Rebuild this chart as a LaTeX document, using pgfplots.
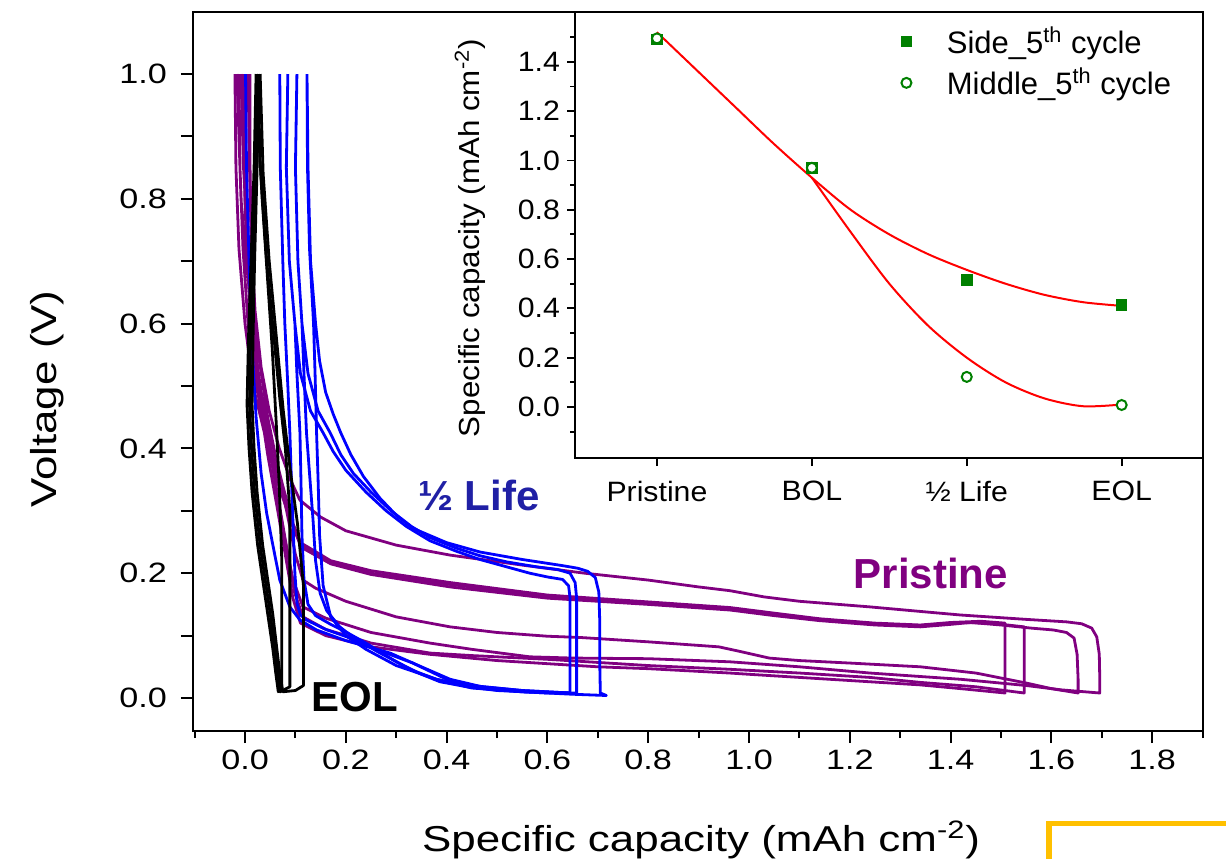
\documentclass[border=0pt]{standalone}
\usepackage{pgfplots}
\pgfplotsset{compat=1.18}
\usepackage{fontspec}
\setmainfont{Liberation Sans}
\newfontfamily\axfont{Liberation Sans}[FakeStretch=1.22]
\newfontfamily\insfont{Liberation Sans}[FakeStretch=1.08]

\definecolor{purp}{RGB}{128,0,128}
\definecolor{lifeblue}{RGB}{0,0,255}
\definecolor{halflab}{RGB}{32,32,165}
\definecolor{markgreen}{RGB}{0,128,0}
\definecolor{fitred}{RGB}{255,0,0}
\definecolor{boxyellow}{RGB}{255,192,0}

\begin{document}
\begin{tikzpicture}
\path[use as bounding box] (-96.5pt,-63.5pt) rectangle (516.5pt,365.5pt);

% main chart: voltage profiles
\begin{axis}[
    at={(0,0)}, anchor=south west,
    scale only axis, width=505pt, height=359.5pt,
    xmin=-0.1032, xmax=1.9008, ymin=-0.0529, ymax=1.0994,
    axis line style={line width=1pt},
    tick align=outside, tick pos=left,
    every tick/.style={black, line width=1pt},
    major tick length=6pt, minor tick length=3.5pt,
    xtick={0,0.2,0.4,0.6,0.8,1.0,1.2,1.4,1.6,1.8},
    minor xtick={-0.1,0.1,0.3,0.5,0.7,0.9,1.1,1.3,1.5,1.7,1.9},
    ytick={0,0.2,0.4,0.6,0.8,1.0},
    extra y ticks={0.1,0.3,0.5,0.7,0.9},
    extra y tick style={yticklabel={}},
    /pgf/number format/fixed, /pgf/number format/fixed zerofill,
    /pgf/number format/precision=1, /pgf/number format/assume math mode=true,
    ticklabel style={font=\axfont\fontsize{14}{16}\selectfont},
    yticklabel style={xshift=-3.5pt},
    xlabel={Specific capacity (mAh cm\textsuperscript{-2})},
    ylabel={Voltage (V)},
    label style={font=\axfont\fontsize{18}{21}\selectfont},
    xlabel style={at={(axis description cs:0.503,-0.1669)}, anchor=base},
    ylabel style={at={(axis description cs:-0.1446,0.4617)}, anchor=center},
    every axis plot/.append style={line width=1.4pt, line join=round},
]
% Pristine (purple)
\addplot[purp] coordinates {
(0.006,1.0) (0.009,0.85) (0.013,0.72) (0.02,0.62) (0.032,0.53) (0.048,0.46) (0.068,0.40) (0.09,0.35) (0.109,0.317) (0.15,0.29) (0.2,0.268) (0.3,0.245) (0.407,0.229) (0.55,0.213) (0.674,0.200) (0.8,0.189) (0.9,0.178) (0.962,0.172) (1.03,0.162) (1.1,0.155) (1.24,0.146) (1.35,0.138) (1.42,0.133) (1.55,0.126) (1.63,0.122) (1.66,0.119) (1.68,0.112) (1.69,0.098) (1.695,0.07) (1.696,0.03) (1.696,0.008)
(1.62,0.013) (1.55,0.02) (1.42,0.030) (1.24,0.040) (1.1,0.050) (0.962,0.058) (0.8,0.063) (0.65,0.064) (0.565,0.066) (0.45,0.078) (0.367,0.088) (0.25,0.105) (0.16,0.128) (0.115,0.146) (0.095,0.19) (0.08,0.25) (0.065,0.32) (0.045,0.42) (0.025,0.53) (0.01,0.66) (0.0,0.8) (0.0,1.0)
};
\addplot[purp] coordinates {
(-0.004,1.0) (-0.002,0.85) (0.003,0.72) (0.012,0.6) (0.028,0.5) (0.05,0.42) (0.075,0.34) (0.095,0.28) (0.115,0.24) (0.17,0.215) (0.25,0.198) (0.407,0.178) (0.6,0.160) (0.8,0.150) (0.962,0.141) (1.05,0.132) (1.14,0.124) (1.25,0.117) (1.34,0.114) (1.40,0.118) (1.44,0.121) (1.5,0.117) (1.56,0.112) (1.604,0.109) (1.63,0.105) (1.645,0.096) (1.651,0.07) (1.653,0.03) (1.653,0.008)
(1.6,0.015) (1.55,0.024) (1.45,0.040) (1.34,0.050) (1.2,0.056) (1.1,0.06) (1.04,0.064) (0.98,0.075) (0.94,0.082) (0.8,0.09) (0.665,0.097) (0.6,0.099) (0.5,0.105) (0.407,0.114) (0.3,0.13) (0.2,0.155) (0.14,0.176) (0.115,0.189) (0.1,0.23) (0.085,0.29) (0.065,0.37) (0.045,0.45) (0.025,0.56) (0.008,0.7) (-0.003,0.85) (-0.008,1.0)
};
\addplot[purp] coordinates {
(-0.012,1.0) (-0.01,0.85) (-0.004,0.72) (0.006,0.6) (0.022,0.5) (0.045,0.42) (0.07,0.34) (0.09,0.285) (0.11,0.245) (0.17,0.218) (0.25,0.2) (0.407,0.182) (0.6,0.163) (0.8,0.152) (0.962,0.143) (1.05,0.134) (1.14,0.126) (1.25,0.119) (1.34,0.116) (1.42,0.121) (1.48,0.12) (1.546,0.114) (1.546,0.008)
(1.45,0.018) (1.34,0.025) (1.24,0.033) (1.1,0.04) (0.962,0.046) (0.8,0.052) (0.6,0.062) (0.45,0.068) (0.367,0.072) (0.25,0.088) (0.16,0.11) (0.115,0.13) (0.098,0.17) (0.085,0.23) (0.068,0.31) (0.048,0.40) (0.028,0.5) (0.01,0.64) (-0.008,0.8) (-0.016,1.0)
};
\addplot[purp] coordinates {
(-0.02,1.0) (-0.018,0.85) (-0.012,0.72) (0.0,0.6) (0.016,0.5) (0.04,0.42) (0.065,0.345) (0.088,0.29) (0.108,0.25) (0.17,0.22) (0.25,0.204) (0.407,0.185) (0.6,0.165) (0.8,0.154) (0.962,0.145) (1.05,0.136) (1.14,0.127) (1.25,0.12) (1.34,0.117) (1.4,0.121) (1.46,0.123) (1.508,0.12) (1.508,0.008)
(1.42,0.015) (1.34,0.021) (1.2,0.028) (1.0,0.038) (0.962,0.040) (0.8,0.047) (0.7,0.05) (0.6,0.055) (0.5,0.06) (0.367,0.07) (0.25,0.082) (0.16,0.1) (0.11,0.12) (0.095,0.16) (0.082,0.22) (0.065,0.3) (0.045,0.39) (0.03,0.47) (0.018,0.56) (0.013,0.7) (0.01,0.85) (0.01,1.0)
};
% 1/2 Life (blue)
\addplot[lifeblue] coordinates {
(0.123,1.0) (0.125,0.85) (0.13,0.7) (0.14,0.6) (0.148,0.54) (0.16,0.49) (0.175,0.455) (0.19,0.425) (0.21,0.39) (0.235,0.355) (0.268,0.32) (0.3,0.293) (0.333,0.272) (0.4,0.249) (0.466,0.234) (0.55,0.222) (0.631,0.212) (0.66,0.208) (0.68,0.203) (0.695,0.193) (0.702,0.17) (0.704,0.12) (0.704,0.05) (0.705,0.008) (0.717,0.004)
(0.65,0.006) (0.55,0.01) (0.45,0.018) (0.38,0.03) (0.3,0.052) (0.24,0.078) (0.2,0.1) (0.17,0.13) (0.155,0.18) (0.148,0.26) (0.145,0.35) (0.142,0.425) (0.139,0.52) (0.136,0.6) (0.128,0.72) (0.124,0.85) (0.123,1.0)
};
\addplot[lifeblue] coordinates {
(0.103,1.0) (0.1,0.85) (0.105,0.7) (0.113,0.6) (0.125,0.52) (0.145,0.46) (0.169,0.425) (0.19,0.39) (0.215,0.36) (0.25,0.33) (0.29,0.30) (0.33,0.275) (0.367,0.257) (0.42,0.24) (0.466,0.228) (0.52,0.218) (0.58,0.21) (0.62,0.206) (0.645,0.2) (0.655,0.185) (0.658,0.16) (0.658,0.008)
(0.6,0.008) (0.5,0.012) (0.44,0.018) (0.387,0.026) (0.35,0.038) (0.32,0.05) (0.268,0.072) (0.22,0.094) (0.188,0.114) (0.162,0.14) (0.149,0.168) (0.14,0.22) (0.135,0.285) (0.128,0.36) (0.122,0.425) (0.117,0.52) (0.113,0.6) (0.105,0.7) (0.1,0.85) (0.103,1.0)
};
\addplot[lifeblue] coordinates {
(0.085,1.0) (0.082,0.85) (0.088,0.7) (0.099,0.6) (0.11,0.52) (0.13,0.46) (0.155,0.425) (0.175,0.395) (0.2,0.365) (0.24,0.33) (0.28,0.3) (0.32,0.275) (0.367,0.252) (0.42,0.235) (0.466,0.222) (0.52,0.21) (0.565,0.2) (0.6,0.194) (0.63,0.19) (0.642,0.18) (0.645,0.16) (0.645,0.008)
(0.55,0.01) (0.45,0.016) (0.38,0.03) (0.33,0.045) (0.3,0.058) (0.24,0.088) (0.2,0.106) (0.17,0.118) (0.14,0.132) (0.125,0.15) (0.117,0.19) (0.113,0.26) (0.111,0.35) (0.109,0.425) (0.103,0.52) (0.099,0.6) (0.088,0.7) (0.082,0.85) (0.085,1.0)
};
\addplot[lifeblue] coordinates {
(0.069,1.0) (0.07,0.85) (0.075,0.7) (0.079,0.6) (0.085,0.5) (0.089,0.425) (0.092,0.35) (0.095,0.285) (0.099,0.2) (0.103,0.152) (0.11,0.133) (0.122,0.125) (0.16,0.11) (0.202,0.098) (0.26,0.078) (0.333,0.056) (0.4,0.03) (0.45,0.02) (0.55,0.012) (0.645,0.008)
};
\addplot[lifeblue] coordinates {
(0.001,1.0) (0.003,0.85) (0.008,0.7) (0.014,0.56) (0.022,0.45) (0.032,0.36) (0.043,0.296) (0.056,0.242) (0.069,0.189) (0.089,0.146) (0.109,0.125) (0.142,0.109) (0.2,0.092) (0.288,0.072) (0.35,0.05) (0.407,0.03) (0.47,0.018) (0.55,0.012) (0.645,0.008)
};
% EOL (black)
\addplot[black] coordinates {
(0.022,1.0) (0.018,0.85) (0.012,0.7) (0.007,0.58) (0.004,0.47) (0.008,0.4) (0.014,0.33) (0.025,0.245) (0.035,0.19) (0.045,0.135) (0.055,0.08) (0.061,0.04) (0.066,0.01) (0.073,0.015) (0.073,0.22) (0.068,0.34) (0.062,0.44) (0.054,0.56) (0.044,0.68) (0.034,0.8) (0.026,0.92) (0.023,1.0)
};
\addplot[black] coordinates {
(0.024,1.0) (0.02,0.85) (0.015,0.7) (0.011,0.58) (0.009,0.47) (0.013,0.4) (0.019,0.33) (0.03,0.245) (0.04,0.19) (0.05,0.135) (0.059,0.08) (0.065,0.04) (0.07,0.01) (0.089,0.018) (0.089,0.3) (0.08,0.4) (0.069,0.48) (0.056,0.59) (0.043,0.7) (0.03,0.857) (0.026,1.0)
};
\addplot[black] coordinates {
(0.027,1.0) (0.024,0.85) (0.019,0.7) (0.016,0.58) (0.014,0.47) (0.018,0.4) (0.024,0.33) (0.035,0.245) (0.045,0.19) (0.055,0.135) (0.063,0.08) (0.069,0.04) (0.075,0.01) (0.1,0.012) (0.116,0.02) (0.116,0.18) (0.104,0.28) (0.089,0.37) (0.076,0.46) (0.062,0.58) (0.048,0.7) (0.036,0.84) (0.03,1.0)
};
\node[font=\bfseries\fontsize{21}{24}\selectfont, text=purp, anchor=base] at (axis cs:1.361,0.176) {Pristine};
\node[font=\bfseries\fontsize{21}{24}\selectfont, text=halflab, anchor=base] at (axis cs:0.464,0.301) {½ Life};
\node[font=\bfseries\fontsize{21}{24}\selectfont, text=black, anchor=base] at (axis cs:0.218,-0.022) {EOL};
\end{axis}

% inset: capacity vs state
\begin{axis}[
    at={(191pt,136.5pt)}, anchor=south west,
    scale only axis, width=314pt, height=223pt,
    xmin=-0.529, xmax=3.525, ymin=-0.207, ymax=1.602,
    axis background/.style={fill=white},
    axis line style={line width=0.9pt},
    tick align=outside, tick pos=left,
    every tick/.style={black, line width=0.9pt},
    major tick length=4pt, minor tick length=2.5pt,
    xtick={0,1,2,3}, xticklabels={Pristine,BOL,½ Life,EOL},
    ytick={0,0.2,0.4,0.6,0.8,1.0,1.2,1.4},
    minor ytick={-0.1,0.1,0.3,0.5,0.7,0.9,1.1,1.3,1.5},
    /pgf/number format/fixed, /pgf/number format/fixed zerofill,
    /pgf/number format/precision=1, /pgf/number format/assume math mode=true,
    ticklabel style={font=\insfont\fontsize{14}{16}\selectfont},
    xticklabel style={yshift=-4pt},
    ylabel={Specific capacity (mAh cm\textsuperscript{-2})},
    ylabel style={font=\insfont\fontsize{14.5}{17}\selectfont, at={(axis description cs:-0.167,0.493)}, anchor=center},
    legend style={at={(axis description cs:0.504,0.985)}, anchor=north west, draw=none, fill=none,
        font=\fontsize{15.5}{18}\selectfont, row sep=2pt, cells={anchor=west}},
    legend image code/.code={\path[draw=none] (-0.15cm,0cm) -- (0.64cm,0cm); \draw[#1] plot coordinates {(0cm,0cm)};},
]
\addplot[fitred, line width=1pt, smooth, forget plot] coordinates {
(0,1.52) (0.25,1.37) (0.5,1.22) (0.75,1.07) (1,0.93) (1.25,0.80) (1.5,0.70) (1.75,0.62) (2,0.556) (2.25,0.50) (2.5,0.455) (2.75,0.425) (3,0.41)
};
\addplot[fitred, line width=1pt, smooth, forget plot] coordinates {
(1,0.93) (1.25,0.71) (1.5,0.50) (1.75,0.33) (2,0.20) (2.25,0.10) (2.5,0.035) (2.75,0.003) (3,0.01)
};
\addplot[only marks, mark=square*, mark size=2.6pt, color=markgreen] coordinates {
(0,1.49) (1,0.97) (2,0.515) (3,0.414)
};
\addplot[only marks, mark=*, mark size=2.5pt, color=markgreen, mark options={fill=white, draw=markgreen, line width=1pt}] coordinates {
(0,1.495) (1,0.97) (2,0.122) (3,0.008)
};
\legend{Side\_5\textsuperscript{th} cycle, Middle\_5\textsuperscript{th} cycle}
\end{axis}

\draw[boxyellow, line width=2.8pt] (428pt,-80pt) -- (428pt,-46.2pt) -- (540pt,-46.2pt);
\end{tikzpicture}
\end{document}
